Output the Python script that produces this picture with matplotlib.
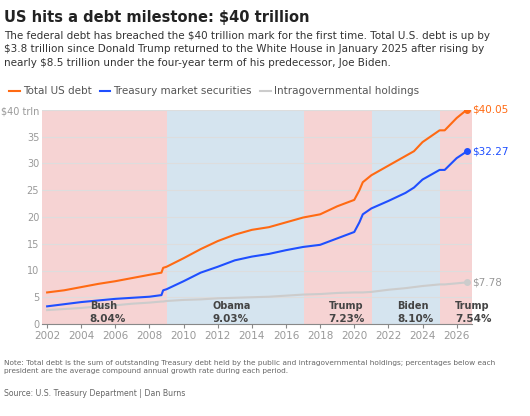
import matplotlib
matplotlib.use("Agg")
import matplotlib.pyplot as plt
from matplotlib.lines import Line2D

dates = [2002.0, 2003, 2004, 2005, 2006, 2007, 2008, 2008.7, 2008.8, 2009, 2010, 2011, 2012, 2013, 2014, 2015, 2016, 2017, 2018, 2019, 2020, 2020.3, 2020.5, 2021, 2022, 2023, 2023.5, 2024, 2025, 2025.3, 2026, 2026.6]
total = [5.9, 6.3, 6.9, 7.5, 8.0, 8.6, 9.2, 9.6, 10.5, 10.7, 12.3, 14.0, 15.5, 16.7, 17.6, 18.1, 19.0, 19.9, 20.5, 22.0, 23.2, 25.0, 26.5, 27.8, 29.6, 31.4, 32.3, 34.0, 36.2, 36.2, 38.5, 40.05]
public = [3.3, 3.7, 4.1, 4.4, 4.7, 4.9, 5.1, 5.4, 6.3, 6.5, 8.0, 9.6, 10.7, 11.9, 12.6, 13.1, 13.8, 14.4, 14.8, 16.0, 17.2, 19.0, 20.5, 21.6, 23.0, 24.5, 25.5, 27.0, 28.8, 28.8, 31.0, 32.27]
intragov = [2.6, 2.8, 3.0, 3.3, 3.5, 3.8, 4.0, 4.2, 4.2, 4.3, 4.5, 4.6, 4.8, 4.9, 5.0, 5.1, 5.3, 5.5, 5.6, 5.8, 5.9, 5.9, 5.9, 6.0, 6.4, 6.7, 6.9, 7.1, 7.4, 7.4, 7.6, 7.78]
terms = [(2001.7, 2009.05, "Bush", "8.04%", "r"), (2009.05, 2017.05, "Obama", "9.03%", "b"),
         (2017.05, 2021.05, "Trump", "7.23%", "r"), (2021.05, 2025.05, "Biden", "8.10%", "b"),
         (2025.05, 2026.9, "Trump", "7.54%", "r")]
label_x = [2004.5, 2011.7, 2018.5, 2022.5, 2025.9]

fig = plt.figure(figsize=(5.3, 4.16), dpi=100)
ax = fig.add_axes([42/530, 1-324/416, 430/530, 214/416])
for (a, b, n, p, c), lx in zip(terms, label_x):
    ax.axvspan(a, b, color="#f6d3d3" if c == "r" else "#d5e4ef", lw=0, zorder=0)
    ax.text(lx, 3.4, n, fontsize=7, fontweight="bold", color="#444", ha="left", va="center")
    ax.text(lx, 1.0, p, fontsize=7.5, fontweight="semibold", color="#444", ha="left", va="center")
ax.plot(dates, intragov, color="#cccccc", lw=1.5)
ax.plot(dates, public, color="#1f4fff", lw=1.5)
ax.plot(dates, total, color="#ff6a13", lw=1.5)
for s, c in [(total, "#ff6a13"), (public, "#1f4fff"), (intragov, "#cccccc")]:
    ax.plot(dates[-1], s[-1], "o", color=c, ms=4)
    ax.text(dates[-1] + 0.3, s[-1], f"${s[-1]:.2f}", color=c if c != "#cccccc" else "#999", fontsize=7.5, va="center")
ax.set_xlim(2001.7, 2026.9)
ax.set_ylim(0, 40)
ax.set_yticks(range(0, 41, 5))
ax.set_yticklabels(["0", "5", "10", "15", "20", "25", "30", "35", "$40 trln"])
ax.set_xticks(range(2002, 2027, 2))
ax.grid(axis="y", color="#dddddd", lw=0.8)
for s in ["top", "right", "left"]:
    ax.spines[s].set_visible(False)
ax.spines["bottom"].set_color("#888")
ax.tick_params(colors="#999", labelsize=7, length=0, pad=2)
ax.tick_params(axis="x", length=3, color="#888", labelsize=7.5)

fig.text(0.008, 0.975, "US hits a debt milestone: $40 trillion", fontsize=10.5, fontweight="bold", va="top", color="#222")
fig.text(0.008, 0.925, "The federal debt has breached the $40 trillion mark for the first time. Total U.S. debt is up by\n$3.8 trillion since Donald Trump returned to the White House in January 2025 after rising by\nnearly $8.5 trillion under the four-year term of his predecessor, Joe Biden.",
         fontsize=7.5, va="top", color="#333", linespacing=1.4)
h = [Line2D([], [], color=c, lw=1.5) for c in ["#ff6a13", "#1f4fff", "#cccccc"]]
fig.legend(h, ["Total US debt", "Treasury market securities", "Intragovernmental holdings"], loc="upper left",
           bbox_to_anchor=(0.0, 0.815), ncol=3, frameon=False, fontsize=7.5, handlelength=1.0,
           handletextpad=0.3, columnspacing=0.8, labelcolor="#555")
fig.text(0.008, 0.135, "Note: Total debt is the sum of outstanding Treasury debt held by the public and intragovernmental holdings; percentages below each\npresident are the average compound annual growth rate during each period.",
         fontsize=5.3, va="top", color="#666", linespacing=1.45)
fig.text(0.008, 0.065, "Source: U.S. Treasury Department | Dan Burns", fontsize=5.6, va="top", color="#666")
fig.savefig("out.png", dpi=100)
